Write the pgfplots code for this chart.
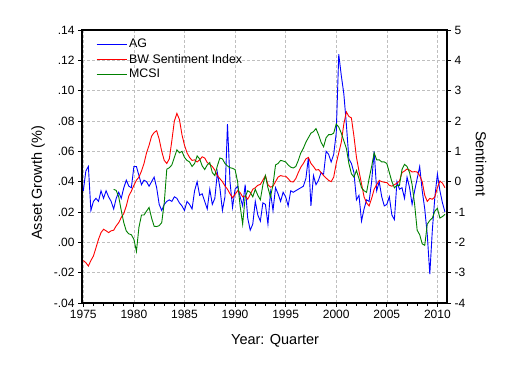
\documentclass[border=0pt]{standalone}
\usepackage{fontspec}
\setmainfont{Liberation Sans}
\usepackage{pgfplots}
\usepackage{pgfplotstable}
\pgfplotsset{compat=1.18}
\definecolor{agblue}{RGB}{0,0,255}
\definecolor{bwred}{RGB}{255,0,0}
\definecolor{mgreen}{RGB}{0,128,0}
\pgfplotstableread{
t ag bw mcsi
1975.00 0.034 -2.60 nan
1975.25 0.047 -2.67 nan
1975.50 0.050 -2.78 nan
1975.75 0.021 -2.60 nan
1976.00 0.027 -2.45 nan
1976.25 0.029 -2.18 nan
1976.50 0.027 -1.90 nan
1976.75 0.034 -1.68 nan
1977.00 0.029 -1.57 nan
1977.25 0.034 -1.62 nan
1977.50 0.030 -1.68 nan
1977.75 0.027 -1.62 nan
1978.00 0.022 -1.60 -0.25
1978.25 0.029 -1.46 -0.29
1978.50 0.033 -1.35 -0.50
1978.75 0.029 -1.18 -0.95
1979.00 0.036 -1.05 -1.35
1979.25 0.041 -0.80 -1.63
1979.50 0.037 -0.47 -1.72
1979.75 0.036 -0.31 -1.75
1980.00 0.050 -0.12 -1.90
1980.25 0.050 0.05 -2.30
1980.50 0.044 0.15 -1.50
1980.75 0.038 0.35 -1.10
1981.00 0.041 0.60 -1.10
1981.25 0.040 0.95 -0.97
1981.50 0.037 1.20 -0.85
1981.75 0.040 1.50 -1.20
1982.00 0.043 1.62 -1.47
1982.25 0.036 1.68 -1.48
1982.50 0.025 1.40 -1.45
1982.75 0.021 1.00 -1.35
1983.00 0.025 0.70 -0.70
1983.25 0.027 0.60 0.41
1983.50 0.028 0.75 0.46
1983.75 0.027 1.35 0.55
1984.00 0.030 2.00 0.80
1984.25 0.029 2.25 1.05
1984.50 0.026 2.05 0.95
1984.75 0.024 1.55 1.00
1985.00 0.021 1.20 0.80
1985.25 0.027 0.95 0.70
1985.50 0.025 0.80 0.65
1985.75 0.022 0.70 0.50
1986.00 0.034 0.72 0.60
1986.25 0.040 0.65 0.85
1986.50 0.031 0.72 0.75
1986.75 0.032 0.82 0.52
1987.00 0.027 0.78 0.40
1987.25 0.022 0.63 0.55
1987.50 0.035 0.57 0.63
1987.75 0.025 0.50 0.30
1988.00 0.029 0.38 0.20
1988.25 0.046 0.20 0.52
1988.50 0.036 0.10 0.78
1988.75 0.021 0.00 0.75
1989.00 0.030 -0.14 0.60
1989.25 0.078 -0.25 0.52
1989.50 0.040 -0.40 0.46
1989.75 0.023 -0.53 0.44
1990.00 0.035 -0.42 0.40
1990.25 0.037 -0.30 0.00
1990.50 0.030 -0.36 -0.80
1990.75 0.024 -0.50 -1.40
1991.00 0.038 -0.47 -0.50
1991.25 0.016 -0.58 -0.30
1991.50 0.008 -0.42 -0.35
1991.75 0.012 -0.25 -0.50
1992.00 0.027 -0.20 -0.25
1992.25 0.018 -0.12 -0.45
1992.50 0.014 -0.09 -0.60
1992.75 0.026 0.05 -0.10
1993.00 0.025 0.20 0.20
1993.25 0.012 -0.10 -0.20
1993.50 0.033 -0.18 -0.50
1993.75 0.021 -0.15 -0.10
1994.00 0.036 0.00 0.55
1994.25 0.032 0.15 0.60
1994.50 0.027 0.20 0.70
1994.75 0.033 0.18 0.68
1995.00 0.030 0.18 0.65
1995.25 0.024 0.10 0.55
1995.50 0.034 0.00 0.48
1995.75 0.033 -0.01 0.45
1996.00 0.034 0.10 0.50
1996.25 0.035 0.30 0.70
1996.50 0.036 0.48 0.95
1996.75 0.037 0.60 1.10
1997.00 0.042 0.75 1.30
1997.25 0.056 0.80 1.45
1997.50 0.024 0.60 1.60
1997.75 0.044 0.50 1.65
1998.00 0.038 0.38 1.75
1998.25 0.041 0.40 1.55
1998.50 0.046 0.30 1.30
1998.75 0.045 0.20 1.15
1999.00 0.060 0.12 1.45
1999.25 0.058 0.04 1.55
1999.50 0.053 0.00 1.55
1999.75 0.058 0.15 1.60
2000.00 0.072 0.60 1.90
2000.25 0.124 0.95 1.80
2000.50 0.110 1.30 1.60
2000.75 0.098 1.90 1.35
2001.00 0.078 2.30 1.10
2001.25 0.055 2.15 0.60
2001.50 0.052 2.10 0.26
2001.75 0.046 1.50 0.15
2002.00 0.028 0.80 0.37
2002.25 0.031 0.35 0.10
2002.50 0.014 -0.07 -0.20
2002.75 0.022 -0.50 -0.30
2003.00 0.028 -0.70 -0.35
2003.25 0.027 -0.80 0.10
2003.50 0.040 -0.55 0.50
2003.75 0.060 -0.25 0.95
2004.00 0.034 -0.10 0.72
2004.25 0.040 0.04 0.72
2004.50 0.030 0.00 0.65
2004.75 0.024 -0.02 0.65
2005.00 0.025 -0.03 0.60
2005.25 0.030 -0.12 0.30
2005.50 0.018 -0.15 0.00
2005.75 0.015 -0.10 -0.20
2006.00 0.040 -0.05 -0.12
2006.25 0.035 0.02 -0.12
2006.50 0.036 0.30 0.40
2006.75 0.029 0.35 0.57
2007.00 0.043 0.42 0.50
2007.25 0.036 0.38 0.30
2007.50 0.025 0.32 -0.10
2007.75 0.034 0.33 -0.75
2008.00 0.042 0.32 -1.60
2008.25 0.050 0.20 -1.75
2008.50 0.034 0.00 -2.05
2008.75 0.022 -0.45 -2.10
2009.00 0.005 -0.65 -1.40
2009.25 -0.021 -0.55 -1.28
2009.50 0.008 -0.58 -1.20
2009.75 0.030 -0.50 -0.97
2010.00 0.045 -0.20 -0.88
2010.25 0.034 0.02 -1.20
2010.50 0.026 -0.05 -1.15
2010.75 0.020 -0.20 -1.08
}\data

\pgfplotsset{
  common/.style={
    scale only axis, width=365pt, height=273pt,
    xmin=1974.87, xmax=2010.95,
    tick align=outside,
    major tick length=4pt, minor tick length=2.5pt,
    tick style={black, line width=0.8pt},
    axis line style={black, line width=1.2pt},
    tick label style={font=\fontsize{12}{14}\selectfont},
    label style={font=\fontsize{14.5}{16}\selectfont},
  }
}

\begin{document}
\begin{tikzpicture}
\useasboundingbox (-82pt,-71pt) rectangle (436pt,303pt);
\begin{axis}[common,
  ymin=-0.04, ymax=0.14,
  xtick={1975,1980,1985,1990,1995,2000,2005,2010},
  xticklabels={1975,1980,1985,1990,1995,2000,2005,2010},
  minor x tick num=4,
  ytick={-0.04,-0.02,0,0.02,0.04,0.06,0.08,0.10,0.12,0.14},
  yticklabels={-.04,-.02,.00,.02,.04,.06,.08,.10,.12,.14},
  xtick pos=bottom, ytick pos=left,
  grid=major,
  major grid style={dash pattern=on 3pt off 2pt, black!25, line width=0.6pt},
  xlabel={Year: Quarter},
  ylabel={Asset Growth (\%)},
  xlabel style={at={(axis description cs:0.529,-0.139)}, anchor=center},
  ylabel style={at={(axis description cs:-0.1205,0.44)}, anchor=center},
  legend style={at={(axis description cs:0.0384,0.974)}, anchor=north west,
    draw=none, fill=none, font=\fontsize{12.4}{14}\selectfont,
    row sep=0.7pt, inner sep=0pt},
  legend cell align=left,
  legend image code/.code={\draw[#1] (0pt,0pt) -- (30pt,0pt);},
]
\addplot[agblue, line width=0.9pt] table[x=t,y=ag]{\data};
\addlegendentry{AG}
\addlegendimage{bwred, line width=0.9pt}
\addlegendentry{BW Sentiment Index}
\addlegendimage{mgreen, line width=0.9pt}
\addlegendentry{MCSI}
\end{axis}
\begin{axis}[common,
  ymin=-4, ymax=5,
  axis x line=none, axis y line*=right,
  ytick={-4,-3,-2,-1,0,1,2,3,4,5},
  yticklabels={-4,-3,-2,-1,0,1,2,3,4,5},
  ylabel={Sentiment},
  ylabel style={at={(axis description cs:1.093,0.51)}, anchor=center, rotate=180},
]
\addplot[bwred, line width=0.9pt] table[x=t,y=bw]{\data};
\addplot[mgreen, line width=0.9pt] table[x=t,y=mcsi]{\data};
\end{axis}
\end{tikzpicture}
\end{document}
